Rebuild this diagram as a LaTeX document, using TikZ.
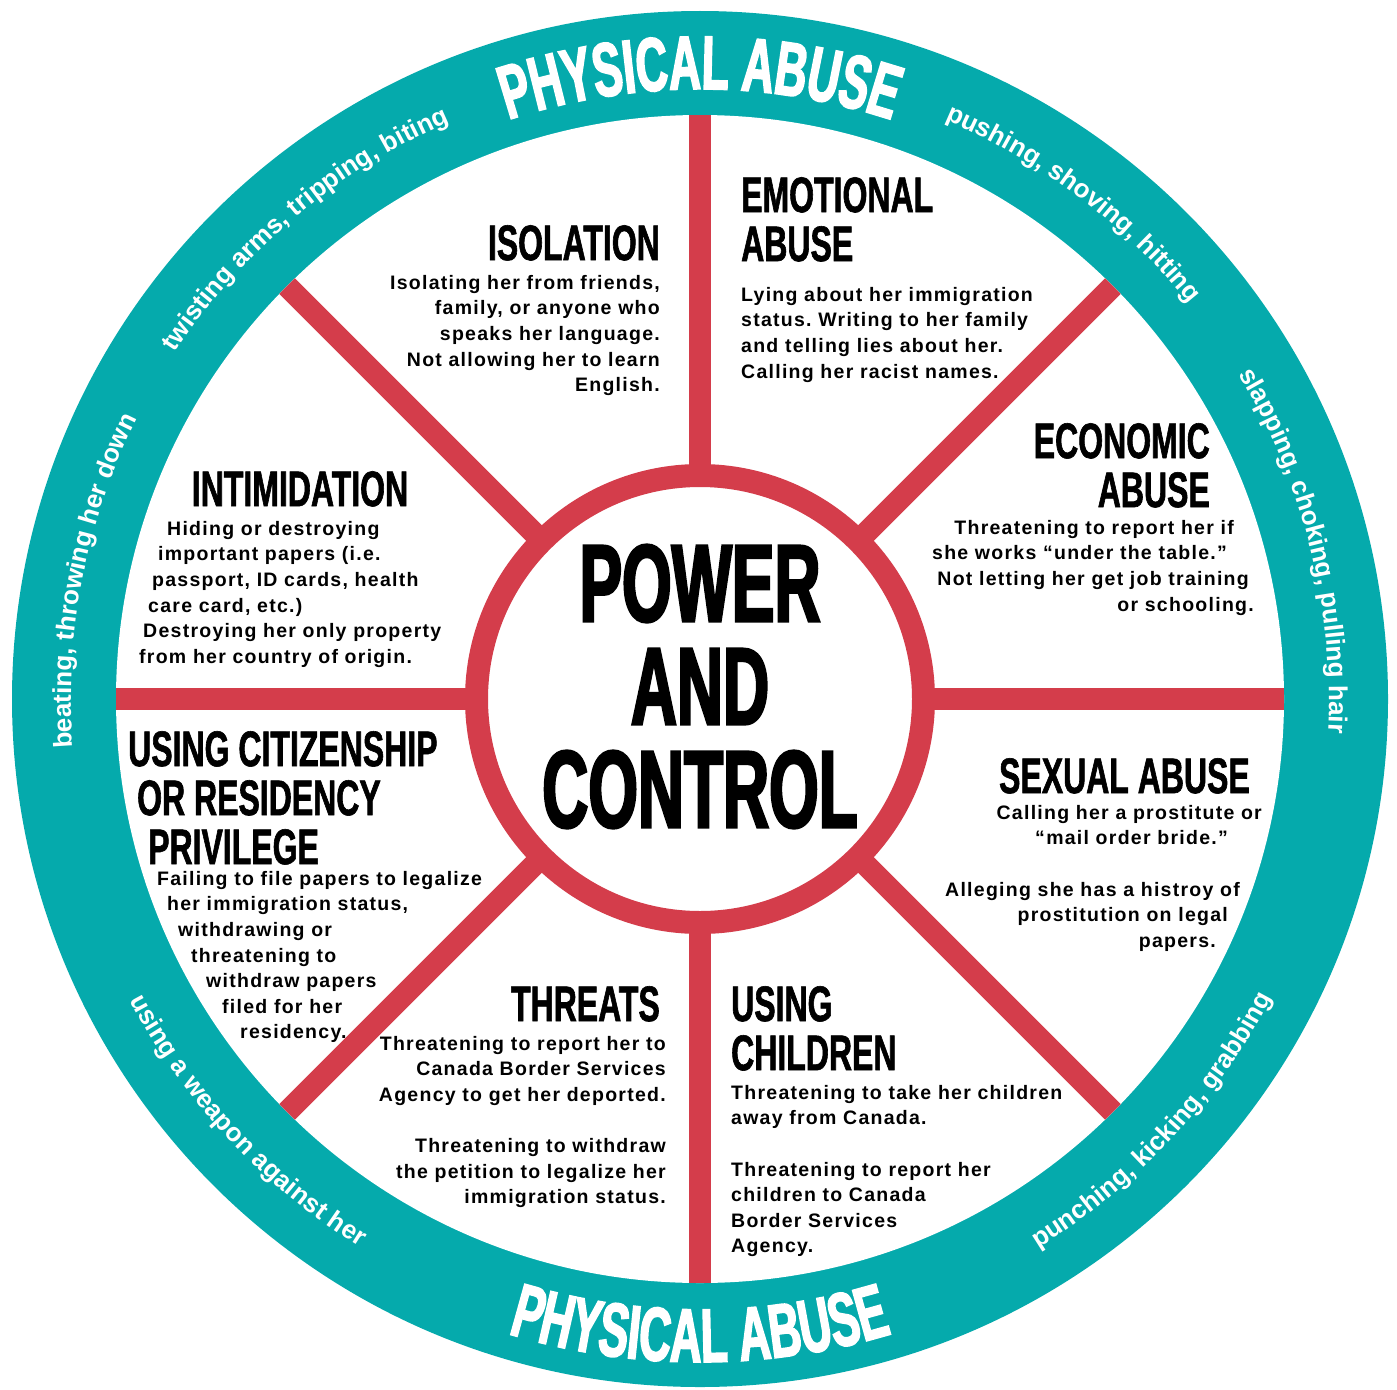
\documentclass[tikz,border=0pt]{standalone}
\usepackage{fontspec}
\setmainfont{Liberation Sans}
\newfontfamily\bodyfont{Liberation Sans}[LetterSpace=6.5]
\newfontfamily\headfont{Liberation Sans}[FakeStretch=0.64,FakeBold=1.2]
\newfontfamily\bigfont{Liberation Sans}[FakeStretch=0.58,FakeBold=2.2]
\usetikzlibrary{decorations.text}
\definecolor{ringteal}{HTML}{05AAAC}
\definecolor{spokered}{HTML}{D43D4B}
\newcommand\arcfont{\bfseries\fontsize{26}{26}\selectfont}
\newcommand\bannerfont{\bigfont\bfseries\fontsize{76}{76}\selectfont}
\newcommand\gap[1]{\rule{#1}{0pt}}
\frenchspacing

\begin{document}
\begin{tikzpicture}[x=1pt,y=1pt,
    head/.style={font=\headfont\bfseries\fontsize{50}{49}\selectfont, inner sep=0pt},
    body/.style={font=\bodyfont\bfseries\fontsize{19.5}{25.6}\selectfont, inner sep=0pt},
    spoke/.style={spokered, line width=22pt},
    arcword/.style={decorate, decoration={text along path, text align=center, text color=white}}]
  \fill[white] (0,0) rectangle (1397,-1389);
  \useasboundingbox (0,0) rectangle (1397,-1389);
  \coordinate (c) at (700,-699);
  % ring and spokes
  \fill[ringteal] (c) circle (688);
  \fill[white] (c) circle (584);
  \begin{scope}[shift={(c)}]
    \foreach \a in {0,45,...,315}
      \draw[spoke] (0,0) -- (\a:584);
    % physical abuse band
    \path[arcword, decoration={text={|\bannerfont|PHYSICAL ABUSE}}]
      (125:610) arc[start angle=125, end angle=55, radius=610];
    \path[arcword, decoration={text={|\bannerfont|PHYSICAL ABUSE}}]
      (235:663) arc[start angle=235, end angle=305, radius=663];
    \path[arcword, decoration={text={|\arcfont|twisting arms, tripping, biting}}]
      (155:629) arc[start angle=155, end angle=105, radius=629];
    \path[arcword, decoration={text={|\arcfont|pushing, shoving, hitting}}]
      (78:629) arc[start angle=78, end angle=28, radius=629];
    \path[arcword, decoration={text={|\arcfont|slapping, choking, pulling hair}}]
      (39:629) arc[start angle=39, end angle=-11, radius=629];
    \path[arcword, decoration={text={|\arcfont|punching, kicking, grabbing}}]
      (-68:645) arc[start angle=-68, end angle=-18, radius=645];
    \path[arcword, decoration={text={|\arcfont|using a weapon against her}}]
      (-162:645) arc[start angle=-162, end angle=-112, radius=645];
    \path[arcword, decoration={text={|\arcfont|beating, throwing her down}}]
      (194:629) arc[start angle=194, end angle=144, radius=629];
  \end{scope}
  % hub
  \node[circle, draw=spokered, line width=23pt, fill=white, minimum size=447pt, inner sep=0pt] (hub) at (c) {};
  \node[font=\bigfont\bfseries\fontsize{110}{103}\selectfont, align=center, inner sep=0pt] (title) at (700,-686.5) {POWER\\AND\\CONTROL};
  % sections
  \node[head, anchor=north east] (isoh) at (660,-225) {ISOLATION};
  \node[body, anchor=north east, align=right] (isob) at (660,-275) {Isolating her from friends,\\family, or anyone who\\speaks her language.\\Not allowing her to learn\\English.};
  \node[head, anchor=north west, align=left] (emoh) at (741,-177) {EMOTIONAL\\ABUSE};
  \node[body, anchor=north west, align=left] (emob) at (741,-287) {Lying about her immigration\\status. Writing to her family\\and telling lies about her.\\Calling her racist names.};
  \node[head, anchor=north east, align=right] (ecoh) at (1210,-423) {ECONOMIC\\ABUSE};
  \node[body, anchor=north east, align=right] (ecob) at (1254,-520) {Threatening to report her if\gap{20pt}\\she works “under the table.”\gap{27pt}\\Not letting her get job training\gap{5pt}\\or schooling.};
  \node[head, anchor=north] (intih) at (300,-471) {INTIMIDATION};
  \node[body, anchor=north west, align=left] (intib) at (139,-521) {\gap{28pt}Hiding or destroying\\\gap{19pt}important papers (i.e.\\\gap{13pt}passport, ID cards, health\\\gap{9pt}care card, etc.)\\\gap{4pt}Destroying her only property\\from her country of origin.};
  \node[head, anchor=north west, align=left] (citih) at (128,-731) {USING CITIZENSHIP\\\gap{9pt}OR RESIDENCY\\\gap{20pt}PRIVILEGE};
  \node[body, anchor=north west, align=left] (citib) at (157,-871) {Failing to file papers to legalize\\\gap{10pt}her immigration status,\\\gap{21pt}withdrawing or\\\gap{34pt}threatening to\\\gap{49pt}withdraw papers\\\gap{65pt}filed for her\\\gap{83pt}residency.};
  \node[head, anchor=north east] (threh) at (660,-986) {THREATS};
  \node[body, anchor=north east, align=right] (threb) at (666,-1036) {Threatening to report her to\\Canada Border Services\\Agency to get her deported.\\[25.6pt]Threatening to withdraw\\the petition to legalize her\\immigration status.};
  \node[head, anchor=north west, align=left] (chilh) at (731,-986) {USING\\CHILDREN};
  \node[body, anchor=north west, align=left] (chilb) at (731,-1085) {Threatening to take her children\\away from Canada.\\[25.6pt]Threatening to report her\\children to Canada\\Border Services\\Agency.};
  \node[head, anchor=north east] (sexh) at (1250,-758) {SEXUAL ABUSE};
  \node[body, anchor=north east, align=right] (sexb) at (1262,-805) {Calling her a prostitute or\\“mail order bride.”\gap{34pt}\\[25.6pt]Alleging she has a histroy of\gap{22pt}\\prostitution on legal\gap{34pt}\\papers.\gap{46pt}};
\end{tikzpicture}
\end{document}
